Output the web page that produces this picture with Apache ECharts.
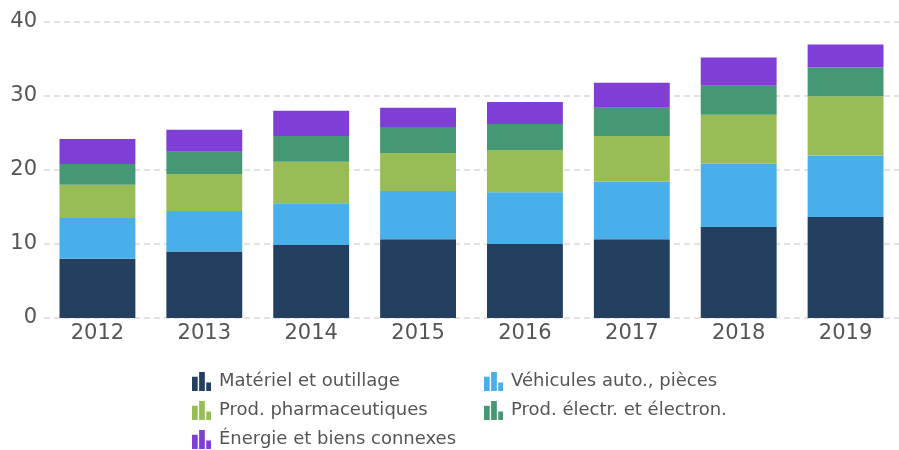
<!DOCTYPE html>
<html>
<head>
<meta charset="utf-8">
<script src="https://cdn.jsdelivr.net/npm/echarts@6/dist/echarts.min.js"></script>
<style>
  html, body { margin: 0; padding: 0; background: #fff; }
  #chart { width: 899px; height: 450px; }
</style>
</head>
<body>
<div id="chart"></div>
<script>
// données
const years = ['2012', '2013', '2014', '2015', '2016', '2017', '2018', '2019']
const materiel = [8.0, 9.0, 9.85, 10.65, 10.0, 10.65, 12.3, 13.65]
const vehicules = [5.5, 5.45, 5.65, 6.5, 7.0, 7.75, 8.55, 8.3]
const pharma = [4.5, 5.0, 5.6, 5.15, 5.7, 6.2, 6.6, 8.0]
const electr = [2.8, 3.0, 3.5, 3.5, 3.5, 3.8, 3.95, 3.9]
const energie = [3.4, 3.0, 3.4, 2.6, 3.0, 3.4, 3.8, 3.1]
const yTicks = [0, 10, 20, 30, 40]

const seriesNames = [
  'Matériel et outillage',
  'Véhicules auto., pièces',
  'Prod. pharmaceutiques',
  'Prod. électr. et électron.',
  'Énergie et biens connexes'
]
const seriesData = [materiel, vehicules, pharma, electr, energie]
const colors = ['#234060', '#49afea', '#98bd57', '#449873', '#7f3ed5']

const barIcon = 'path://M0,5h6v15h-6zM7.5,0h6v20h-6zM15,11h5v9h-5z'
const font = 'DejaVu Sans'

// position de chaque entrée de légende (2 colonnes)
const legendPos = [[192, 372], [484, 372], [192, 401], [484, 401], [192, 430]]

const chart = echarts.init(document.getElementById('chart'))
chart.setOption({
  animation: false,
  color: colors,
  textStyle: { fontFamily: font },
  grid: { left: 44, right: 0, top: 22, bottom: 132 },
  legend: seriesNames.map((name, i) => ({
    left: legendPos[i][0],
    top: legendPos[i][1],
    padding: 0,
    data: [name],
    icon: barIcon,
    itemWidth: 19,
    itemHeight: 20,
    textStyle: { fontFamily: font, fontSize: 18, color: '#555', padding: [0, 0, 0, 3] }
  })),
  xAxis: {
    type: 'category',
    data: years,
    axisLine: { show: false },
    axisTick: { show: false },
    axisLabel: { fontSize: 21, color: '#555', margin: 5, fontFamily: font }
  },
  yAxis: {
    type: 'value',
    min: yTicks[0],
    max: yTicks[yTicks.length - 1],
    interval: 10,
    axisLine: { show: false },
    axisTick: { show: false },
    axisLabel: { fontSize: 21, color: '#555', margin: 7, fontFamily: font },
    splitLine: { lineStyle: { type: [6, 4], color: '#d9d9d9', width: 1.5 } }
  },
  series: seriesNames.map((name, i) => ({
    name: name,
    type: 'bar',
    stack: 'total',
    barWidth: '71%',
    data: seriesData[i]
  }))
})
</script>
</body>
</html>
